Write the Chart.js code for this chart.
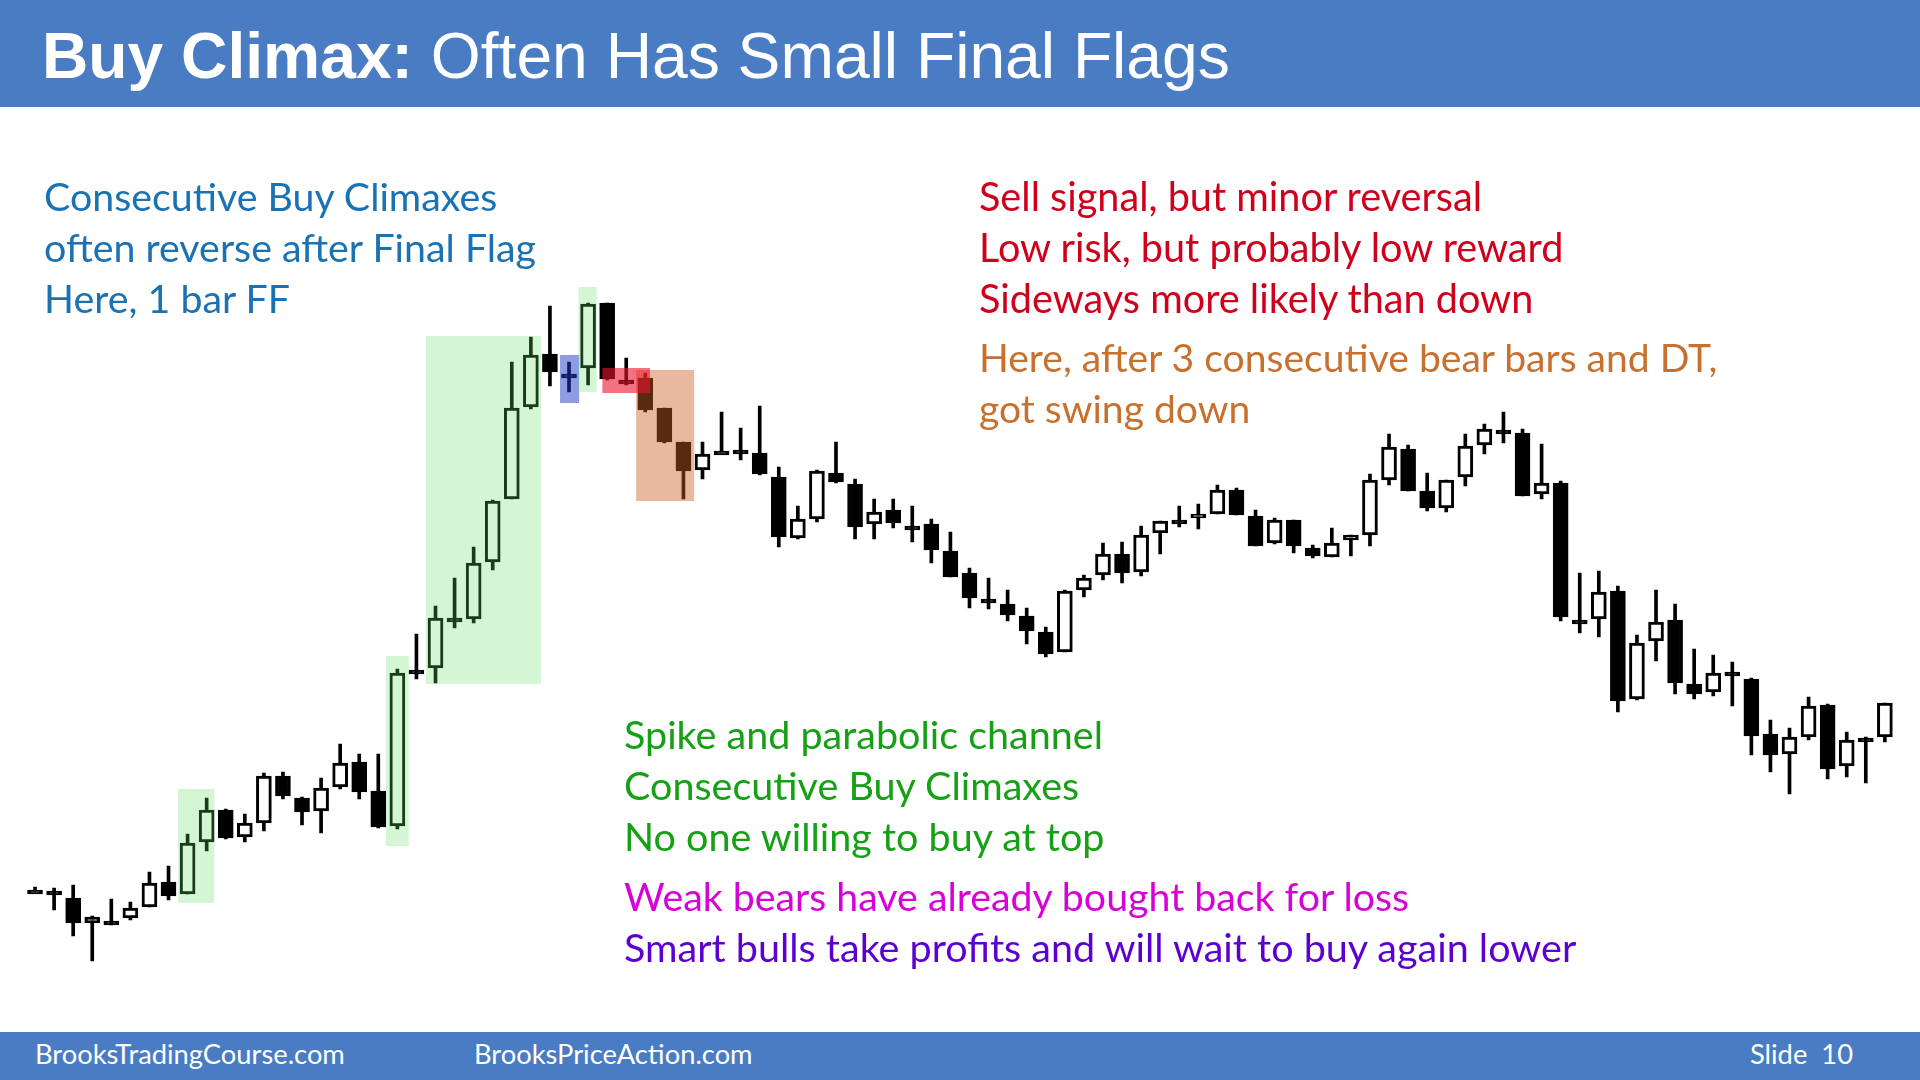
<!DOCTYPE html>
<html>
<head>
<meta charset="utf-8">
<title>Buy Climax: Often Has Small Final Flags</title>
<script src="https://cdn.jsdelivr.net/npm/chart.js@4.4.1/dist/chart.umd.min.js"></script>
<style>
  html, body { margin: 0; padding: 0; background: #fff; }
  #slide { position: relative; width: 1920px; height: 1080px; overflow: hidden; background: #fff; }
  #chart { position: absolute; left: 0; top: 0; }
  .band { position: absolute; left: 0; width: 1920px; background: #4a7cc3; }
  #head { top: 0; height: 107px; }
  #foot { top: 1032px; height: 48px; }
  .txt { position: absolute; white-space: pre; }
</style>
</head>
<body>
<div id="slide">
  <canvas id="chart" width="1920" height="1080"></canvas>
  <div class="band" id="head"></div>
  <div class="band" id="foot"></div>
</div>
<script>
// bar data, one value per bar (price units)
const bars = Array.from({ length: 98 }, (_, i) => String(i + 1))

const opens = [
	110, 109, 102, 77, 79, 82, 93, 118, 106, 158,
	190, 163, 177, 224, 202, 189, 213, 238, 209, 174,
	330, 332, 382, 381, 438, 501, 593, 646, 626, 632,
	697, 620, 622, 592, 558, 530, 549, 550, 547, 523,
	462, 481, 527, 516, 476, 490, 474, 476, 449, 427,
	401, 396, 384, 368, 348, 410, 425, 446, 428, 467,
	480, 482, 486, 510, 484, 457, 480, 452, 443, 460,
	465, 520, 551, 509, 492, 523, 555, 570, 567, 506,
	517, 380, 381, 409, 301, 359, 380, 316, 308, 328,
	321, 266, 246, 263, 295, 234, 262, 263,
]
const highs = [
	113, 112, 115, 84, 101, 98, 128, 134, 166, 202,
	191, 186, 227, 228, 203, 222, 256, 246, 246, 331,
	366, 394, 422, 453, 500, 638, 663, 694, 638, 697,
	697, 642, 627, 592, 558, 558, 588, 572, 594, 533,
	494, 530, 558, 521, 501, 501, 494, 481, 468, 432,
	422, 410, 392, 373, 410, 425, 457, 458, 474, 479,
	494, 496, 515, 512, 490, 482, 480, 455, 472, 465,
	526, 566, 555, 527, 520, 566, 576, 588, 571, 556,
	519, 427, 429, 414, 365, 410, 396, 351, 345, 338,
	322, 280, 272, 303, 296, 268, 263, 297,
]
const lows = [
	109, 90, 64, 39, 75, 80, 93, 100, 106, 149,
	161, 158, 169, 201, 175, 167, 211, 201, 172, 171,
	321, 317, 372, 377, 430, 501, 591, 614, 608, 615,
	620, 615, 588, 557, 501, 521, 548, 540, 525, 453,
	461, 478, 517, 461, 461, 472, 458, 437, 423, 392,
	391, 379, 356, 343, 348, 403, 420, 417, 424, 446,
	473, 471, 486, 485, 454, 456, 447, 442, 443, 444,
	454, 515, 509, 489, 488, 514, 546, 557, 504, 501,
	379, 367, 363, 288, 300, 339, 306, 301, 304, 294,
	245, 228, 206, 260, 221, 223, 217, 258,
]
const closes = [
	110, 105, 77, 83, 79, 92, 117, 104, 157, 190,
	162, 177, 224, 204, 188, 212, 237, 208, 173, 327,
	330, 382, 382, 437, 499, 592, 645, 628, 626, 696,
	621, 620, 590, 558, 529, 546, 549, 550, 526, 463,
	481, 529, 518, 473, 488, 477, 474, 450, 423, 402,
	401, 385, 369, 346, 409, 422, 446, 427, 465, 479,
	480, 486, 510, 485, 454, 480, 454, 444, 457, 465,
	520, 553, 509, 492, 520, 554, 571, 570, 504, 517,
	383, 380, 408, 299, 357, 378, 317, 306, 327, 328,
	264, 245, 263, 294, 231, 260, 262, 297,
]

// shaded zones: bar index span and price span
const zones = [
	{ from: 7.5, to: 9.4, top: 211, bottom: 97, color: 'rgba(100,223,100,0.27)' },
	{ from: 18.4, to: 19.6, top: 344, bottom: 154, color: 'rgba(100,223,100,0.27)' },
	{ from: 20.5, to: 26.53, top: 664, bottom: 316, color: 'rgba(100,223,100,0.27)' },
	{ from: 27.53, to: 28.53, top: 645, bottom: 597, color: 'rgba(30,60,200,0.5)' },
	{ from: 28.49, to: 29.45, top: 713, bottom: 608, color: 'rgba(100,223,100,0.27)' },
	{ from: 31.52, to: 34.56, top: 630, bottom: 499, color: 'rgba(205,95,36,0.44)' },
	{ from: 29.75, to: 32.25, top: 632, bottom: 607, color: 'rgba(235,20,45,0.6)' },
]

const zonePlugin = {
	id: 'zones',
	afterDatasetsDraw(chart) {
		const { ctx, scales: { x, y } } = chart
		ctx.save()
		zones.forEach(z => {
			const x1 = x.getPixelForValue(z.from)
			const x2 = x.getPixelForValue(z.to)
			const y1 = y.getPixelForValue(z.top)
			const y2 = y.getPixelForValue(z.bottom)
			ctx.fillStyle = z.color
			ctx.fillRect(x1, y1, x2 - x1, y2 - y1)
		})
		ctx.restore()
	},
}

const ctx = document.getElementById('chart').getContext('2d')
const myChart = new Chart(ctx, {
	type: 'bar',
	data: {
		labels: bars,
		datasets: [
			{
				label: 'Wicks',
				data: lows.map((l, i) => [l, highs[i]]),
				backgroundColor: '#000000',
				barThickness: 3,
				grouped: false,
				order: 2,
			},
			{
				label: 'Bodies',
				data: opens.map((o, i) => [Math.min(o, closes[i]), Math.max(o, closes[i])]),
				backgroundColor: opens.map((o, i) => (closes[i] > o ? '#ffffff' : '#000000')),
				borderColor: '#000000',
				borderWidth: 3,
				borderSkipped: false,
				barThickness: 15,
				minBarLength: 4,
				grouped: false,
				order: 1,
			},
		],
	},
	options: {
		responsive: false,
		animation: false,
		devicePixelRatio: 1,
		layout: { padding: { left: 25.5, right: 25.6, top: 0, bottom: 0 } },
		scales: {
			x: { display: false, offset: true },
			y: { display: false, min: -80, max: 1000 },
		},
		plugins: {
			legend: { display: false },
			tooltip: { enabled: false },
		},
	},
	plugins: [zonePlugin],
})

// slide text
const slide = document.getElementById('slide')
const meter = document.createElement('canvas').getContext('2d')
const widthOf = (text, font) => {
	meter.font = font
	return meter.measureText(text).width
}

function addLine(parts, left, baseline, size, family) {
	const div = document.createElement('div')
	div.className = 'txt'
	div.style.fontFamily = family
	div.style.fontSize = size + 'px'
	div.style.lineHeight = size + 'px'
	meter.font = `${size}px ${family}`
	const m = meter.measureText('Hg')
	const asc = m.fontBoundingBoxAscent
	const desc = m.fontBoundingBoxDescent
	div.style.left = left + 'px'
	div.style.top = baseline - ((size - asc - desc) / 2 + asc) + 'px'
	parts.forEach(p => {
		const s = document.createElement('span')
		s.textContent = p.text
		s.style.color = p.color
		if (p.bold) s.style.fontWeight = 'bold'
		div.appendChild(s)
	})
	slide.appendChild(div)
}

// title
const titleFont = "'Liberation Sans', Arial, sans-serif"
const titleW =
	widthOf('Buy Climax:', `bold 100px ${titleFont}`) +
	widthOf(' Often Has Small Final Flags', `100px ${titleFont}`)
const titleSize = (100 * 1188) / titleW
addLine(
	[
		{ text: 'Buy Climax:', color: '#ffffff', bold: true },
		{ text: ' Often Has Small Final Flags', color: '#ffffff' },
	],
	42, 78, titleSize, titleFont
)

// notes
const bodyFont = "Lato, 'Open Sans', sans-serif"
const notes = [
	{
		lines: ['Consecutive Buy Climaxes', 'often reverse after Final Flag', 'Here, 1 bar FF'],
		color: '#1b72b3', left: 44, baseline: 211.5, step: 50.8, fit: [1, 493],
	},
	{
		lines: ['Sell signal, but minor reversal', 'Low risk, but probably low reward', 'Sideways more likely than down'],
		color: '#d0001c', left: 979, baseline: 211.8, step: 51, fit: [1, 587],
	},
	{
		lines: ['Here, after 3 consecutive bear bars and DT,', 'got swing down'],
		color: '#c8702e', left: 979, baseline: 372.5, step: 51, fit: [0, 740],
	},
	{
		lines: ['Spike and parabolic channel', 'Consecutive Buy Climaxes', 'No one willing to buy at top'],
		color: '#15a015', left: 624, baseline: 749.5, step: 50.8, fit: [0, 479],
	},
	{
		lines: ['Weak bears have already bought back for loss'],
		color: '#d800d8', left: 624, baseline: 910.8, step: 0, fit: [0, 787],
	},
	{
		lines: ['Smart bulls take profits and will wait to buy again lower'],
		color: '#5c00d2', left: 624, baseline: 962.3, step: 0, fit: [0, 955],
	},
]
notes.forEach(n => {
	const size = (100 * n.fit[1]) / widthOf(n.lines[n.fit[0]], `100px ${bodyFont}`)
	n.lines.forEach((t, i) => {
		addLine([{ text: t, color: n.color }], n.left, n.baseline + i * n.step, size, bodyFont)
	})
})

// footer
const footer = [
	{ text: 'BrooksTradingCourse.com', left: 35, width: 310 },
	{ text: 'BrooksPriceAction.com', left: 474, width: 273 },
	{ text: 'Slide  10', left: 1750, width: 100 },
]
const footSize = (100 * 310) / widthOf('BrooksTradingCourse.com', `100px ${bodyFont}`)
footer.forEach(f => {
	addLine([{ text: f.text, color: '#ffffff' }], f.left, 1064, footSize, bodyFont)
})
</script>
</body>
</html>
